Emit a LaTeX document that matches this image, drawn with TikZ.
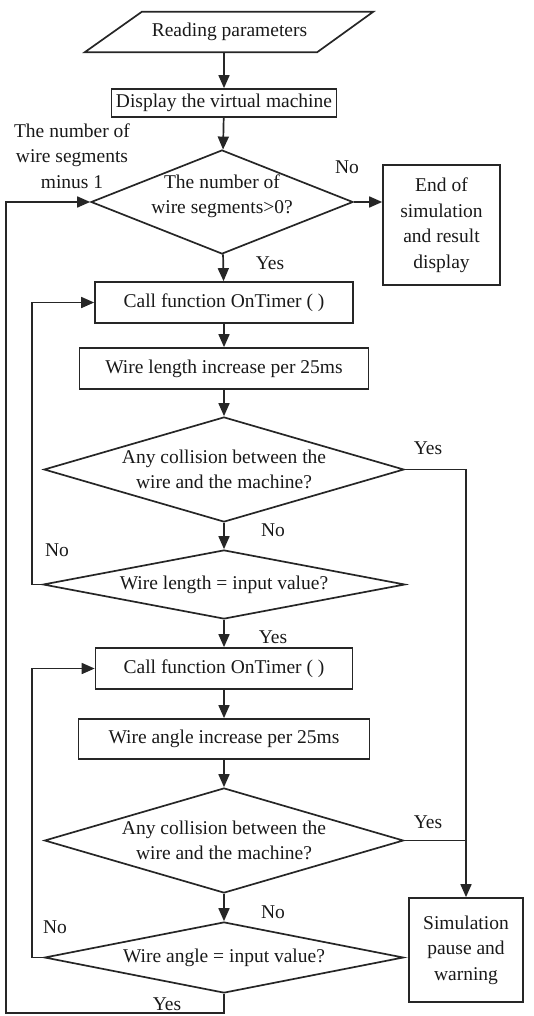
\documentclass[tikz,border=0pt]{standalone}
\usepackage{fontspec}
\setmainfont{Liberation Serif}
\usetikzlibrary{shapes.geometric,arrows.meta}

\tikzset{
  every node/.style={font=\fontsize{19.5}{25.5}\selectfont, text=black!90},
  line/.style={draw=black!85, line width=1.7pt},
  flow/.style={line, -{Triangle[length=13pt,width=11pt]}},
  procbox/.style={rectangle, line, inner sep=0pt, align=center},
  iobody/.style={rectangle, inner sep=0pt, minimum width=175pt, minimum height=40pt},
  decision/.style={diamond, line, inner sep=0pt},
  tag/.style={inner sep=0pt, align=center}
}

\begin{document}
\begin{tikzpicture}[x=1pt,y=-1pt]
\useasboundingbox (0,0) rectangle (533,1016);

% input parallelogram: text body plus slanted sides
\node[iobody] (read) at (229.5,32) {Reading parameters};
\draw[line] ([xshift=-57pt]read.south west) -- (read.north west)
  -- ([xshift=56pt]read.north east) -- (read.south east) -- cycle;

% main column
\node[procbox, minimum width=225pt, minimum height=28pt] (disp) at (224,103) {Display the virtual machine};
\node[decision, minimum width=262pt, minimum height=104pt,
      label={[tag, yshift=6pt]center:The number of\\wire segments>0?}] (d1) at (222,202) {};
\node[procbox, minimum width=117pt, minimum height=120pt] (end) at (441.5,225) {End of\\simulation\\and result\\display};
\node[procbox, minimum width=258pt, minimum height=41pt] (call1) at (224,302.5) {Call function OnTimer ( )};
\node[procbox, minimum width=289pt, minimum height=41pt] (len) at (224,368.5) {Wire length increase per 25ms};
\node[decision, minimum width=360pt, minimum height=105pt,
      label={[tag]center:Any collision between the\\wire and the machine?}] (d2) at (224,469.5) {};
\node[decision, minimum width=362pt, minimum height=69pt,
      label={[tag]center:Wire length = input value?}] (d3) at (224,584.5) {};
\node[procbox, minimum width=257pt, minimum height=41pt] (call2) at (224,668.5) {Call function OnTimer ( )};
\node[procbox, minimum width=291pt, minimum height=40pt] (ang) at (224,739) {Wire angle increase per 25ms};
\node[decision, minimum width=359pt, minimum height=105pt,
      label={[tag]center:Any collision between the\\wire and the machine?}] (d4) at (224,840.5) {};
\node[decision, minimum width=359pt, minimum height=71pt,
      label={[tag]center:Wire angle = input value?}] (d5) at (224,957.5) {};
\node[procbox, minimum width=114pt, minimum height=104pt] (sim) at (466,950) {Simulation\\pause and\\warning};

% routing points for the loops
\coordinate (inner) at (32,0);
\coordinate (outer) at (6,1013);

% straight flow
\draw[flow] (read.south -| disp.north) -- (disp);
\draw[flow] (disp) -- (d1);
\draw[flow] (d1) -- (call1);
\draw[flow] (call1) -- (len);
\draw[flow] (len) -- (d2);
\draw[flow] (d2) -- (d3);
\draw[flow] (d3) -- (call2);
\draw[flow] (call2) -- (ang);
\draw[flow] (ang) -- (d4);
\draw[flow] (d4) -- (d5);
\draw[flow] (d1.east) -- (d1.east -| end.west);

% collision branches
\draw[flow] (d2.east) -| (sim.north);
\draw[line] (d4.east) -- (d4.east -| sim.north);

% loops back
\draw[flow] (d3.west) -- (d3.west -| inner) |- (call1.west);
\draw[flow] (d5.west) -- (d5.west -| inner) |- (call2.west);
\draw[flow] (d5.south) |- (outer) |- (d1.west);

% branch labels
\node[tag] at (72,156) {The number of\\wire segments\\minus 1};
\node[tag] at (347,167) {No};
\node[tag] at (270,263) {Yes};
\node[tag] at (428,448) {Yes};
\node[tag] at (273,530) {No};
\node[tag] at (57,550) {No};
\node[tag] at (273,637) {Yes};
\node[tag] at (428,822) {Yes};
\node[tag] at (273,912) {No};
\node[tag] at (55,927) {No};
\node[tag] at (167,1004) {Yes};
\end{tikzpicture}
\end{document}
